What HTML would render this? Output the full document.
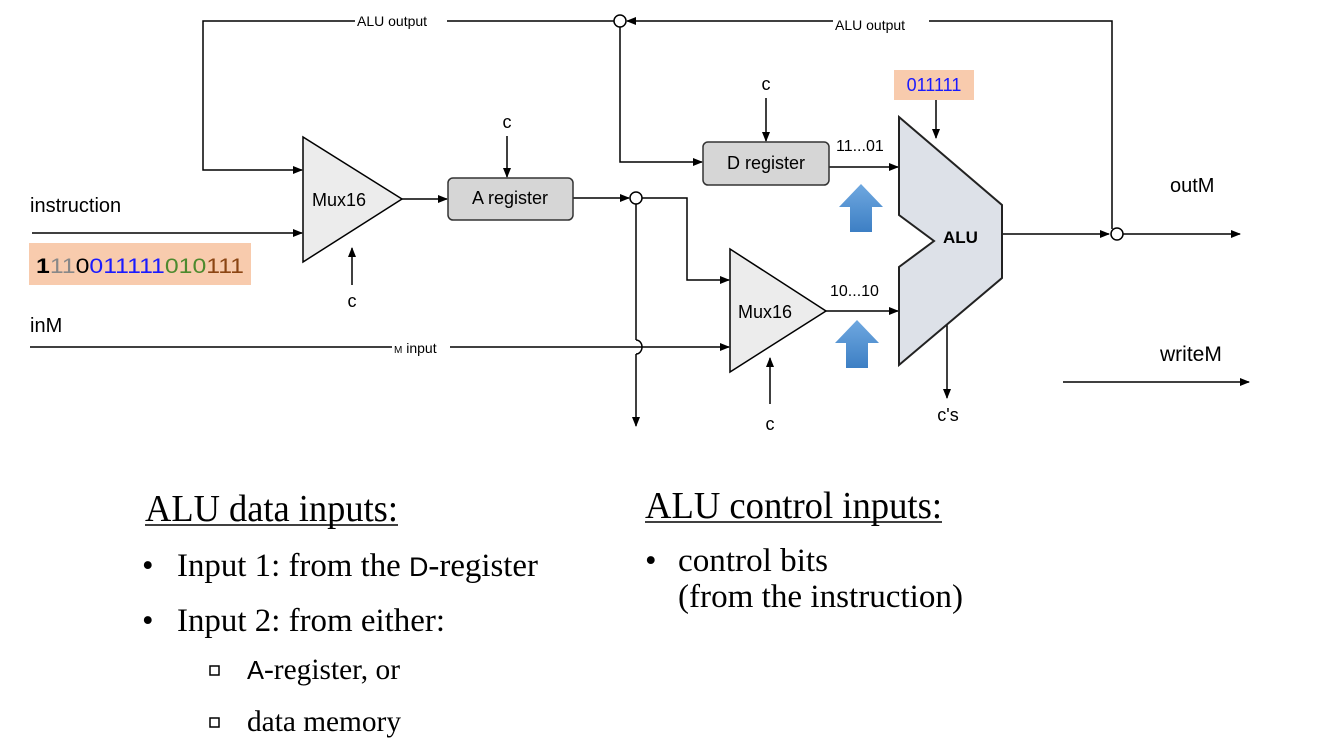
<!DOCTYPE html>
<html><head><meta charset="utf-8"><style>
html,body{margin:0;padding:0;background:#fff;width:1326px;height:753px;overflow:hidden}
svg{display:block}
.s{font-family:"Liberation Sans",sans-serif}
.r{font-family:"Liberation Serif",serif}
</style></head><body>
<svg width="1326" height="753" viewBox="0 0 1326 753" xmlns="http://www.w3.org/2000/svg">
<defs>
<marker id="a" markerWidth="10" markerHeight="8" refX="9" refY="4" orient="auto" markerUnits="userSpaceOnUse"><path d="M0,0 L10,4 L0,8 Z" fill="#000"/></marker>
<linearGradient id="bl" x1="0" y1="0" x2="0" y2="1"><stop offset="0" stop-color="#6fa8e0"/><stop offset="1" stop-color="#3d7fc4"/></linearGradient>
</defs>
<g stroke="#000" stroke-width="1.5" fill="none">
<polyline points="614,21 203,21 203,170 302,170" marker-end="url(#a)"/>
<polyline points="1112,229 1112,21 627,21" marker-end="url(#a)"/>
<polyline points="620,27 620,162 702,162" marker-end="url(#a)"/>
<line x1="32" y1="233" x2="302" y2="233" marker-end="url(#a)"/>
<line x1="402" y1="199" x2="447" y2="199" marker-end="url(#a)"/>
<line x1="573" y1="198" x2="629" y2="198" marker-end="url(#a)"/>
<polyline points="636,204 636,340"/>
<path d="M636,340 A6,7 0 0 1 636,354"/>
<line x1="636" y1="354" x2="636" y2="426" marker-end="url(#a)"/>
<polyline points="642,198 687,198 687,280 729,280" marker-end="url(#a)"/>
<line x1="30" y1="347" x2="729" y2="347" marker-end="url(#a)"/>
<line x1="352" y1="285" x2="352" y2="248" marker-end="url(#a)"/>
<line x1="507" y1="136" x2="507" y2="177" marker-end="url(#a)"/>
<line x1="766" y1="98" x2="766" y2="141" marker-end="url(#a)"/>
<line x1="770" y1="404" x2="770" y2="358" marker-end="url(#a)"/>
<line x1="936" y1="100" x2="936" y2="138" marker-end="url(#a)"/>
<line x1="829" y1="167" x2="898" y2="167" marker-end="url(#a)"/>
<line x1="826" y1="311" x2="898" y2="311" marker-end="url(#a)"/>
<line x1="997" y1="234" x2="1109" y2="234" marker-end="url(#a)"/>
<line x1="1123" y1="234" x2="1240" y2="234" marker-end="url(#a)"/>
<line x1="947" y1="325" x2="947" y2="398" marker-end="url(#a)"/>
<line x1="1063" y1="382" x2="1249" y2="382" marker-end="url(#a)"/>
</g>
<g fill="#fff" stroke="#000" stroke-width="1.5">
<circle cx="620" cy="21" r="6"/>
<circle cx="636" cy="198" r="6"/>
<circle cx="1117" cy="234" r="6"/>
</g>
<rect x="355" y="13" width="92" height="16" fill="#fff"/>
<rect x="833" y="17" width="96" height="16" fill="#fff"/>
<rect x="392" y="340" width="58" height="16" fill="#fff"/>
<text x="357" y="26" class="s" font-size="14">ALU output</text>
<text x="835" y="30" class="s" font-size="14">ALU output</text>
<text x="394" y="353" class="s" font-size="14"><tspan font-size="10">M</tspan> input</text>
<polygon points="303,137 303,262 402,199" fill="#ececec" stroke="#000" stroke-width="1.5"/>
<text x="312" y="206" class="s" font-size="18">Mux16</text>
<polygon points="730,249 730,372 826,311" fill="#ececec" stroke="#000" stroke-width="1.5"/>
<text x="738" y="318" class="s" font-size="18">Mux16</text>
<rect x="448" y="178" width="125" height="42" rx="5" fill="#d6d6d6" stroke="#333" stroke-width="1.5"/>
<text x="510" y="204" class="s" font-size="18" text-anchor="middle">A register</text>
<rect x="703" y="142" width="126" height="43" rx="5" fill="#d6d6d6" stroke="#333" stroke-width="1.5"/>
<text x="766" y="169" class="s" font-size="18" text-anchor="middle">D register</text>
<polygon points="899,117 1002,205 1002,278 899,365 899,267 934,241 899,215" fill="#dde1e8" stroke="#222" stroke-width="2"/>
<text x="943" y="243" class="s" font-size="17" font-weight="bold">ALU</text>
<g class="s" font-size="18" text-anchor="middle">
<text x="352" y="307">c</text>
<text x="507" y="128">c</text>
<text x="766" y="90">c</text>
<text x="770" y="430">c</text>
<text x="948" y="421">c's</text>
</g>
<text x="836" y="151" class="s" font-size="16">11...01</text>
<text x="830" y="296" class="s" font-size="16">10...10</text>
<polygon points="861,184 883,207 872,207 872,232 850,232 850,207 839,207" fill="url(#bl)"/>
<polygon points="857,320 879,343 868,343 868,368 846,368 846,343 835,343" fill="url(#bl)"/>
<rect x="894" y="70" width="80" height="30" fill="#f8cbad"/>
<text x="934" y="91" class="s" font-size="18" fill="#1a1aff" text-anchor="middle">011111</text>
<text x="30" y="212" class="s" font-size="20">instruction</text>
<rect x="29" y="243" width="222" height="42" fill="#f8cbad"/>
<text x="36" y="273" class="s" font-size="21" textLength="208" lengthAdjust="spacingAndGlyphs"><tspan font-weight="bold" fill="#000">1</tspan><tspan fill="#888">11</tspan><tspan fill="#000">0</tspan><tspan fill="#1a1aff">011111</tspan><tspan fill="#4d8a2e">010</tspan><tspan fill="#8b4513">111</tspan></text>
<text x="30" y="332" class="s" font-size="20">inM</text>
<text x="1170" y="192" class="s" font-size="20">outM</text>
<text x="1160" y="361" class="s" font-size="21">writeM</text>
<g class="r" font-size="38">
<text x="145" y="521" textLength="253" lengthAdjust="spacingAndGlyphs">ALU data inputs:</text>
<line x1="145" y1="525" x2="398" y2="525" stroke="#000" stroke-width="1.5"/>
<text x="645" y="518" textLength="297" lengthAdjust="spacingAndGlyphs">ALU control inputs:</text>
<line x1="645" y1="522" x2="942" y2="522" stroke="#000" stroke-width="1.5"/>
</g>
<g class="r" font-size="33">
<text x="142" y="576">•</text>
<text x="177" y="576" textLength="361" lengthAdjust="spacingAndGlyphs">Input 1: from the <tspan class="s" font-size="27">D</tspan>-register</text>
<text x="142" y="631">•</text>
<text x="177" y="631" textLength="268" lengthAdjust="spacingAndGlyphs">Input 2: from either:</text>
<text x="645" y="571">•</text>
<text x="678" y="571" textLength="150" lengthAdjust="spacingAndGlyphs">control bits</text>
<text x="678" y="607" textLength="285" lengthAdjust="spacingAndGlyphs">(from the instruction)</text>
</g>
<g class="r" font-size="30">
<rect x="210" y="666" width="9" height="9" fill="none" stroke="#000" stroke-width="1.5"/>
<text x="247" y="679" textLength="153" lengthAdjust="spacingAndGlyphs"><tspan class="s" font-size="26">A</tspan>-register, or</text>
<rect x="210" y="718" width="9" height="9" fill="none" stroke="#000" stroke-width="1.5"/>
<text x="247" y="731" textLength="154" lengthAdjust="spacingAndGlyphs">data memory</text>
</g>
</svg>
</body></html>
